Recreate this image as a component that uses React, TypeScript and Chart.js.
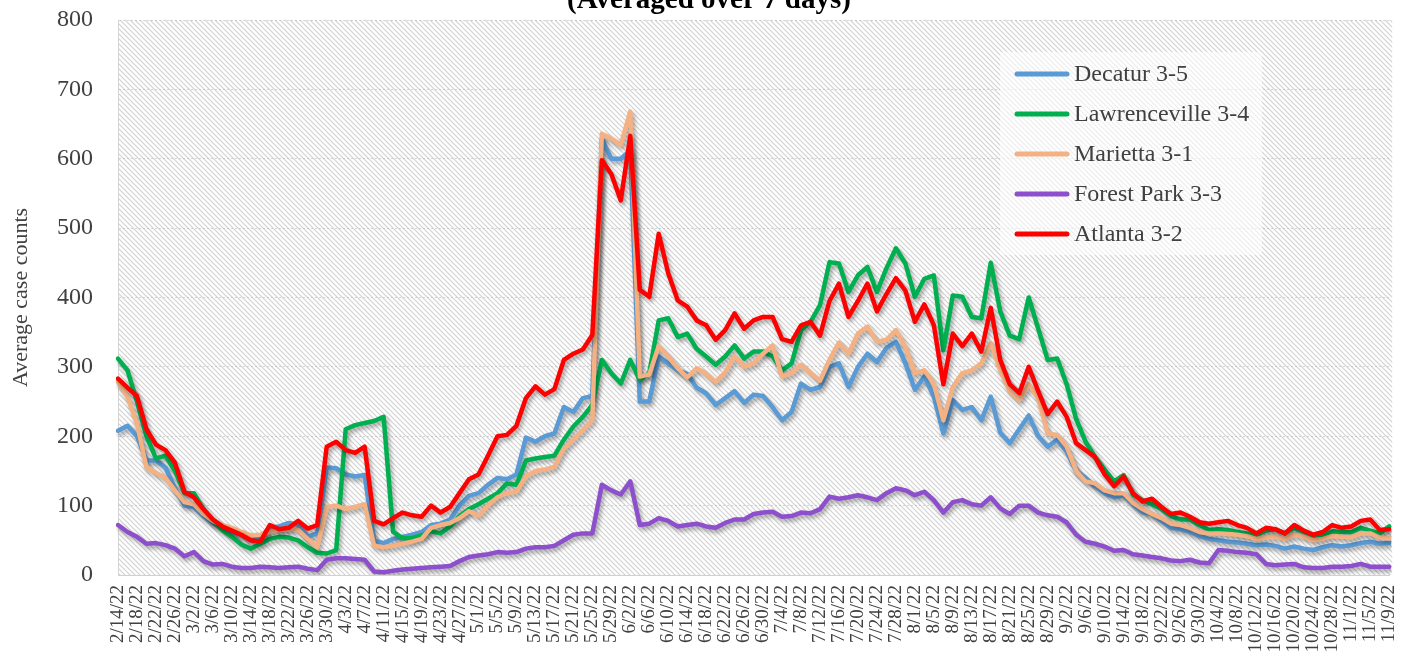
import React, { useEffect, useRef } from 'react';
import { Chart, registerables } from 'chart.js';

Chart.register(...registerables);

// Dates every 2 days from 2/14/22 to 11/9/22
const START_UTC = Date.UTC(2022, 1, 14);
const POINT_COUNT = 135;
const dateLabels: string[] = [];
for (let i = 0; i < POINT_COUNT; i++) {
  const d = new Date(START_UTC + i * 2 * 86400000);
  dateLabels.push(`${d.getUTCMonth() + 1}/${d.getUTCDate()}/22`);
}

const yTicks = [0, 100, 200, 300, 400, 500, 600, 700, 800];

const decatur = [
  208, 215, 200, 165, 165, 155, 125, 100, 98, 85, 75, 68, 62, 58, 50, 55, 68, 70, 75, 73, 55, 60, 155,
  154, 145, 142, 144, 50, 46, 52, 55, 58, 62, 72, 74, 80, 100, 114, 118, 130, 140, 138, 145, 198, 192, 200, 204,
  242, 235, 255, 258, 628, 600, 600, 612, 250, 250, 315, 305, 295, 290, 270, 262, 245, 255, 265, 248, 260, 258,
  242, 223, 235, 276, 267, 271, 300, 305, 271, 300, 319, 307, 327, 336, 305, 267, 286, 257, 204, 252, 238, 242, 223, 257,
  205, 190, 210, 230, 200, 185, 195, 178, 150, 140, 128, 118, 112, 115, 102, 90, 88, 78, 68, 66, 62, 56, 52,
  50, 48, 47, 45, 43, 44, 42, 38, 41, 38, 36, 40, 43, 41, 43, 46, 48, 45, 46,
];

const lawrenceville = [
  312, 295, 250, 200, 168, 172, 150, 118, 118, 95, 78, 65, 55, 44, 38, 45, 52, 55, 54, 50, 40, 32, 31,
  36, 210, 216, 219, 222, 228, 62, 53, 53, 57, 63, 60, 70, 85, 95, 102, 110, 118, 132, 130, 165, 168, 170, 172,
  195, 214, 228, 245, 310, 291, 276, 310, 281, 291, 367, 370, 343, 348, 326, 315, 303, 315, 331, 312, 322, 322,
  315, 295, 305, 353, 365, 389, 451, 449, 408, 432, 444, 408, 442, 471, 449, 401, 427, 432, 324, 403, 401, 372, 370, 450,
  380, 345, 340, 400, 355, 310, 312, 275, 225, 192, 170, 152, 135, 144, 116, 108, 102, 95, 85, 80, 80, 72, 65,
  66, 65, 62, 60, 58, 64, 66, 60, 68, 62, 57, 58, 63, 62, 62, 68, 64, 60, 70,
];

const marietta = [
  279, 257, 218, 155, 147, 140, 122, 105, 102, 88, 78, 72, 68, 62, 57, 58, 62, 65, 66, 65, 52, 40, 98,
  100, 95, 98, 102, 42, 40, 42, 45, 48, 52, 68, 72, 75, 82, 92, 85, 100, 112, 118, 120, 142, 150, 152, 156,
  182, 195, 209, 223, 636, 629, 620, 668, 286, 289, 330, 315, 298, 285, 298, 290, 278, 292, 315, 300, 305, 319,
  331, 286, 291, 303, 291, 280, 310, 335, 319, 348, 358, 336, 339, 353, 329, 291, 295, 276, 223, 271, 291, 295, 305, 334,
  295, 265, 252, 275, 255, 204, 202, 185, 150, 135, 132, 122, 118, 118, 104, 95, 88, 82, 74, 72, 68, 62, 60,
  60, 59, 58, 56, 52, 54, 55, 52, 58, 55, 50, 52, 56, 55, 54, 60, 60, 54, 53,
];

const forestPark = [
  72, 62, 55, 45, 46, 43, 38, 27, 33, 20, 15, 16, 12, 10, 10, 12, 11, 10, 11, 12, 9, 7, 22,
  24, 24, 23, 22, 5, 4, 6, 8, 9, 10, 11, 12, 13, 20, 26, 28, 30, 33, 32, 33, 38, 40, 40, 42,
  50, 58, 60, 60, 130, 122, 116, 135, 72, 74, 82, 78, 70, 72, 74, 70, 68, 75, 80, 80, 88, 90,
  91, 84, 85, 90, 89, 95, 113, 110, 112, 115, 112, 108, 118, 125, 122, 115, 120, 108, 90, 105, 108, 102, 100, 112,
  96, 88, 100, 100, 90, 86, 84, 76, 58, 48, 45, 41, 35, 36, 30, 28, 26, 24, 21, 20, 22, 18, 17,
  36, 35, 33, 32, 30, 16, 14, 15, 16, 11, 10, 10, 12, 12, 13, 16, 12, 12, 12,
];

const atlanta = [
  283, 270, 258, 210, 188, 180, 162, 120, 112, 95, 80, 70, 64, 58, 50, 48, 72, 66, 68, 78, 67, 72, 185,
  192, 180, 176, 185, 78, 73, 82, 90, 86, 84, 100, 90, 98, 118, 138, 145, 172, 200, 202, 215, 255, 272, 260, 268,
  310, 319, 325, 346, 598, 578, 540, 633, 411, 401, 492, 435, 396, 387, 367, 360, 339, 353, 377, 355, 367, 372,
  372, 340, 336, 360, 365, 345, 395, 420, 372, 395, 420, 380, 405, 428, 410, 365, 390, 360, 275, 348, 330, 348, 322, 385,
  310, 275, 262, 300, 265, 232, 250, 228, 190, 180, 170, 145, 128, 142, 118, 106, 110, 98, 88, 90, 84, 76, 74,
  76, 78, 72, 68, 60, 68, 66, 60, 72, 64, 58, 62, 72, 68, 70, 78, 80, 65, 66,
];

const seriesNames = ['Decatur 3-5', 'Lawrenceville 3-4', 'Marietta 3-1', 'Forest Park 3-3', 'Atlanta 3-2'];
const seriesColors = ['#5B9BD5', '#00B050', '#F4B183', '#8E4FCC', '#FF0000'];
const seriesValues = [decatur, lawrenceville, marietta, forestPark, atlanta];

const subtitleText = '(Averaged over 7 days)';
const yAxisTitle = 'Average case counts';

const SERIF = "'Liberation Serif', 'DejaVu Serif', serif";
const TEXT_COLOR = '#404040';

function makeHatch(): CanvasPattern | string {
  const size = 5;
  const pc = document.createElement('canvas');
  pc.width = size;
  pc.height = size;
  const p = pc.getContext('2d');
  if (!p) return '#ececec';
  p.fillStyle = '#ffffff';
  p.fillRect(0, 0, size, size);
  p.strokeStyle = '#d2d2d2';
  p.lineWidth = 1.2;
  p.beginPath();
  p.moveTo(-1, -1);
  p.lineTo(size + 1, size + 1);
  p.moveTo(-1, size - 1);
  p.lineTo(1, size + 1);
  p.moveTo(size - 1, -1);
  p.lineTo(size + 1, 1);
  p.stroke();
  const pat = p.createPattern(pc, 'repeat');
  return pat || '#ececec';
}

export default function App() {
  const canvasRef = useRef<HTMLCanvasElement | null>(null);

  useEffect(() => {
    document.body.style.margin = '0';
    const canvas = canvasRef.current;
    if (!canvas) return;
    const hatch = makeHatch();

    const backgroundPlugin = {
      id: 'hatchBackground',
      beforeDraw(chart: any) {
        const { ctx, chartArea } = chart;
        ctx.save();
        ctx.fillStyle = '#ffffff';
        ctx.fillRect(0, 0, chart.width, chart.height);
        ctx.fillStyle = hatch;
        ctx.fillRect(chartArea.left, chartArea.top, chartArea.right - chartArea.left + 3, chartArea.bottom - chartArea.top);
        ctx.restore();
      },
    };

    const shadowPlugin = {
      id: 'lineShadow',
      beforeDatasetsDraw(chart: any) {
        const ctx = chart.ctx;
        ctx.save();
        ctx.shadowColor = 'rgba(0,0,0,0.35)';
        ctx.shadowBlur = 4;
        ctx.shadowOffsetX = 2;
        ctx.shadowOffsetY = 3;
      },
      afterDatasetsDraw(chart: any) {
        chart.ctx.restore();
      },
    };

    const overlayPlugin = {
      id: 'overlay',
      afterDraw(chart: any) {
        const ctx = chart.ctx;
        ctx.save();
        // subtitle (cut at top like the reference)
        ctx.fillStyle = '#000000';
        ctx.font = `bold 29px ${SERIF}`;
        ctx.textAlign = 'center';
        ctx.textBaseline = 'alphabetic';
        ctx.fillText(subtitleText, 709, 8);

        // legend
        const lx = 1000;
        const ly = 52;
        ctx.fillStyle = 'rgba(255,255,255,0.6)';
        ctx.fillRect(lx, ly, 262, 203);
        ctx.font = `24px ${SERIF}`;
        ctx.textAlign = 'left';
        ctx.textBaseline = 'middle';
        for (let i = 0; i < seriesNames.length; i++) {
          const cy = 74 + i * 40;
          ctx.strokeStyle = seriesColors[i];
          ctx.lineWidth = 5;
          ctx.lineCap = 'round';
          ctx.beginPath();
          ctx.moveTo(1017, cy);
          ctx.lineTo(1067, cy);
          ctx.stroke();
          ctx.fillStyle = TEXT_COLOR;
          ctx.fillText(seriesNames[i], 1074, cy + 1);
        }
        ctx.restore();
      },
    };

    const chart = new Chart(canvas, {
      type: 'line',
      data: {
        labels: dateLabels,
        datasets: seriesValues.map((vals, i) => ({
          label: seriesNames[i],
          data: vals,
          borderColor: seriesColors[i],
          backgroundColor: seriesColors[i],
          borderWidth: 4.5,
          pointRadius: 0,
          tension: 0,
          fill: false,
          borderJoinStyle: 'round' as const,
          borderCapStyle: 'round' as const,
          order: seriesNames.length - 1 - i,
        })),
      },
      options: {
        responsive: false,
        animation: false,
        devicePixelRatio: 1,
        layout: { padding: { top: 20, right: 20, left: 0, bottom: 0 } },
        plugins: {
          legend: { display: false },
          tooltip: { enabled: false },
          title: { display: false },
        },
        scales: {
          x: {
            type: 'category',
            offset: false,
            grid: { display: false, drawTicks: false },
            border: { display: true, color: '#d0d0d0', width: 1 },
            ticks: {
              autoSkip: false,
              minRotation: 90,
              maxRotation: 90,
              padding: 10,
              color: TEXT_COLOR,
              font: { family: SERIF, size: 19 },
              callback: (_v: any, idx: number) => (idx % 2 === 0 ? dateLabels[idx] : ''),
            },
            afterFit: (scale: any) => {
              scale.height = 83;
            },
          },
          y: {
            min: 0,
            max: 800,
            afterBuildTicks: (scale: any) => {
              scale.ticks = yTicks.map((v) => ({ value: v }));
            },
            grid: {
              color: 'rgba(185,185,185,0.6)',
              lineWidth: 1,
              drawTicks: false,
              borderDash: [3, 3],
            } as any,
            border: { display: true, color: '#d4d4d4', dash: [2, 2] },
            ticks: {
              padding: 25,
              color: TEXT_COLOR,
              font: { family: SERIF, size: 24 },
            },
            title: {
              display: true,
              text: yAxisTitle,
              color: TEXT_COLOR,
              font: { family: SERIF, size: 22 },
              padding: { top: 8, bottom: 0 },
            },
            afterFit: (scale: any) => {
              scale.width = 118;
              scale.paddingTop = 14;
              scale.paddingBottom = 14;
            },
          },
        },
      },
      plugins: [backgroundPlugin, shadowPlugin, overlayPlugin],
    } as any);

    return () => {
      chart.destroy();
    };
  }, []);

  return (
    <div style={{ width: 1422, height: 658, position: 'relative', background: '#fff' }}>
      <canvas ref={canvasRef} width={1422} height={658} style={{ display: 'block' }} />
    </div>
  );
}
